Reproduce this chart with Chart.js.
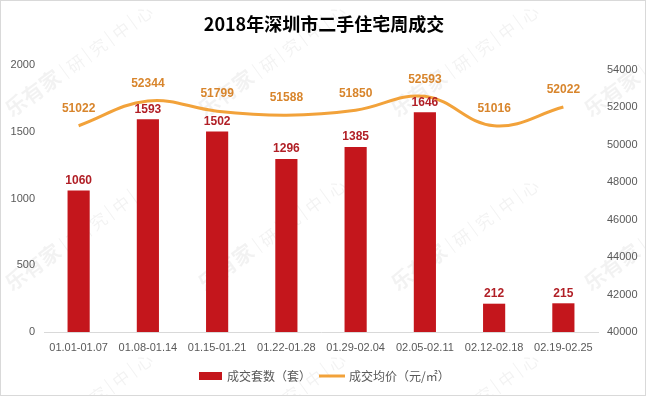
<!DOCTYPE html>
<html>
<head>
<meta charset="utf-8">
<style>
  html, body { margin: 0; padding: 0; background: #fff; }
  #wrap { width: 646px; height: 396px; }
</style>
</head>
<body>
<div id="wrap"><canvas id="myChart" width="646" height="396"></canvas></div>

<script src="https://cdn.jsdelivr.net/npm/chart.js@4.4.2/dist/chart.umd.min.js"></script>
<script>
  // chart data
  const weeks = ['01.01-01.07', '01.08-01.14', '01.15-01.21', '01.22-01.28',
                 '01.29-02.04', '02.05-02.11', '02.12-02.18', '02.19-02.25'];
  const dealCount = [1060, 1593, 1502, 1296, 1385, 1646, 212, 215];
  const avgPrice = [51022, 52344, 51799, 51588, 51850, 52593, 51016, 52022];
  const countTicks = [0, 500, 1000, 1500, 2000];
  const priceTicks = [40000, 42000, 44000, 46000, 48000, 50000, 52000, 54000];

  const titleText = '2018年深圳市二手住宅周成交';
  const barColor = '#C4161C';
  const lineColor = '#F2A23A';
  const numFont = '"Liberation Sans", "Noto Sans CJK SC", sans-serif';
  const cjkFont = '"Noto Sans CJK SC", sans-serif';

  const ctx = document.getElementById('myChart');

  // white page, thin frame, title and faint watermark
  const backdrop = {
    id: 'backdrop',
    beforeDraw(chart) {
      const c = chart.ctx;
      c.save();
      c.fillStyle = '#fff';
      c.fillRect(0, 0, chart.width, chart.height);

      // watermark
      c.fillStyle = 'rgba(0,0,0,0.05)';
      [118, 292, 466].forEach(function(y) {
        [12, 205, 398, 591].forEach(function(x) {
          c.save();
          c.translate(x, y);
          c.rotate(-36 * Math.PI / 180);
          c.font = 'bold 21px ' + cjkFont;
          c.textBaseline = 'alphabetic';
          c.fillText('乐有家', 0, 0);
          let w = c.measureText('乐有家').width + 6;
          c.font = '17px ' + cjkFont;
          ['研', '究', '中', '心'].forEach(function(ch) {
            c.fillRect(w, -16, 1, 18);
            w += 6;
            c.fillText(ch, w, 0);
            w += c.measureText(ch).width + 5;
          });
          c.restore();
        });
      });

      c.strokeStyle = '#D9D9D9';
      c.lineWidth = 1;
      c.strokeRect(0.5, 0.5, chart.width - 1, chart.height - 1);

      c.fillStyle = '#000';
      c.font = 'bold 18px ' + cjkFont;
      c.textAlign = 'center';
      c.textBaseline = 'middle';
      c.fillText(titleText, 324, 24);
      c.restore();
    },
    afterDraw(chart) {
      // legend at the bottom
      const c = chart.ctx;
      c.save();
      c.font = '12px ' + cjkFont;
      c.textBaseline = 'middle';
      const label1 = chart.data.datasets[0].label;
      const label2 = chart.data.datasets[1].label;
      let x = 199;
      const y = 376;
      c.fillStyle = barColor;
      c.fillRect(x, y - 4, 23, 8);
      x += 28;
      c.fillStyle = '#595959';
      c.fillText(label1, x, y);
      x += c.measureText(label1).width + 8;
      c.strokeStyle = lineColor;
      c.lineWidth = 3;
      c.beginPath();
      c.moveTo(x, y);
      c.lineTo(x + 26, y);
      c.stroke();
      x += 30;
      c.fillText(label2, x, y);
      c.restore();
    }
  };

  // value labels above bars and line points
  const valueLabels = {
    id: 'valueLabels',
    afterDatasetsDraw(chart) {
      const c = chart.ctx;
      c.save();
      c.textAlign = 'center';
      c.textBaseline = 'bottom';
      c.font = 'bold 12px ' + numFont;
      c.fillStyle = '#B11F26';
      chart.getDatasetMeta(0).data.forEach(function(bar, i) {
        c.fillText(String(dealCount[i]), bar.x, bar.y - 4);
      });
      c.fillStyle = '#D8852C';
      chart.getDatasetMeta(1).data.forEach(function(pt, i) {
        c.fillText(String(avgPrice[i]), pt.x, pt.y - 11);
      });
      c.restore();
    }
  };

  const tickFont = { family: numFont, size: 11 };
  const plain = function(v) { return String(v); };

  const myChart = new Chart(ctx, {
    type: 'bar',
    data: {
      labels: weeks,
      datasets: [
        {
          type: 'bar',
          label: '成交套数（套）',
          data: dealCount,
          backgroundColor: barColor,
          yAxisID: 'y',
          barPercentage: 0.32,
          categoryPercentage: 1,
          order: 2
        },
        {
          type: 'line',
          label: '成交均价（元/㎡）',
          data: avgPrice,
          borderColor: lineColor,
          backgroundColor: lineColor,
          borderWidth: 3,
          tension: 0.4,
          pointRadius: 0,
          fill: false,
          yAxisID: 'y1',
          order: 1
        }
      ]
    },
    options: {
      responsive: false,
      animation: false,
      devicePixelRatio: 1,
      layout: { padding: { top: 65, left: 0, right: 0, bottom: 0 } },
      plugins: {
        legend: { display: false },
        title: { display: false },
        tooltip: { enabled: false }
      },
      scales: {
        x: {
          grid: { display: false, drawTicks: false },
          border: { display: true, color: '#D9D9D9', width: 1 },
          ticks: { color: '#595959', font: tickFont, padding: 9, maxRotation: 0, autoSkip: false },
          afterFit: function(s) { s.height = 64; }
        },
        y: {
          position: 'left',
          min: 0,
          max: 2000,
          afterBuildTicks: function(s) { s.ticks = countTicks.map(function(v) { return { value: v }; }); },
          grid: { display: false, drawTicks: false },
          border: { display: false },
          ticks: { color: '#595959', font: tickFont, padding: 9, callback: plain },
          afterFit: function(s) { s.width = 44; }
        },
        y1: {
          position: 'right',
          min: 40000,
          max: 54267,
          afterBuildTicks: function(s) { s.ticks = priceTicks.map(function(v) { return { value: v }; }); },
          grid: { display: false, drawTicks: false },
          border: { display: false },
          ticks: { color: '#595959', font: tickFont, padding: 9, callback: plain },
          afterFit: function(s) { s.width = 48; }
        }
      }
    },
    plugins: [backdrop, valueLabels]
  });
</script>
</body>
</html>
